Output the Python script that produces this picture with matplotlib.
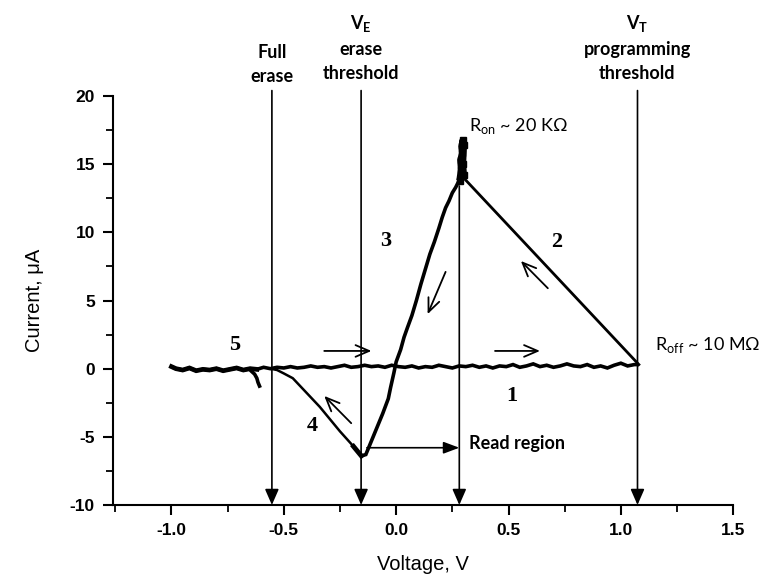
import matplotlib
matplotlib.use("Agg")
import matplotlib.pyplot as plt
from matplotlib import font_manager
from matplotlib.ticker import MultipleLocator, FormatStrFormatter

plt.rcParams["axes.unicode_minus"] = False

# ---- data ----
# off state sweep (branches 5 and 1), noisy line near zero
off_v = [-1.00, -0.98, -0.95, -0.92, -0.89, -0.86, -0.83, -0.80, -0.77, -0.74,
         -0.71, -0.68, -0.65, -0.62, -0.59, -0.56, -0.53, -0.50, -0.47, -0.44,
         -0.41, -0.38, -0.35, -0.32, -0.29, -0.26, -0.23, -0.20, -0.17, -0.14,
         -0.11, -0.08, -0.05, -0.02, 0.01, 0.04, 0.07, 0.10, 0.13, 0.16,
         0.19, 0.22, 0.25, 0.28, 0.31, 0.34, 0.37, 0.40, 0.43, 0.46,
         0.49, 0.52, 0.55, 0.58, 0.61, 0.64, 0.67, 0.70, 0.73, 0.76,
         0.79, 0.82, 0.85, 0.88, 0.91, 0.94, 0.97, 1.00, 1.03, 1.06, 1.08]
off_i = [0.15, 0.00, -0.10, 0.05, -0.15, -0.05, -0.10, 0.00, -0.15, -0.05,
         0.05, -0.10, 0.00, -0.05, 0.10, 0.00, 0.10, 0.05, 0.15, 0.05,
         0.10, 0.20, 0.10, 0.15, 0.05, 0.15, 0.25, 0.10, 0.15, 0.25,
         0.15, 0.20, 0.10, 0.25, 0.15, 0.10, 0.20, 0.05, 0.15, 0.10,
         0.25, 0.15, 0.05, 0.20, 0.15, 0.25, 0.10, 0.20, 0.05, 0.20,
         0.15, 0.30, 0.10, 0.20, 0.35, 0.15, 0.25, 0.10, 0.20, 0.35,
         0.20, 0.15, 0.30, 0.10, 0.20, 0.05, 0.25, 0.40, 0.20, 0.30, 0.30]

# small tail below branch 5
tail_v = [-0.65, -0.63, -0.62, -0.615, -0.605]
tail_i = [-0.10, -0.40, -0.70, -1.00, -1.40]

# branch 2: set at V_T, straight line back to the on state
set_v = [1.08, 0.30]
set_i = [0.30, 14.0]

# spike at the top of the on state
spike_v = [0.283, 0.29, 0.287, 0.295, 0.292, 0.298, 0.30, 0.296, 0.30]
spike_i = [13.8, 14.6, 15.3, 15.8, 16.3, 16.8, 16.4, 15.0, 14.2]

# branch 3: on state, sweeping down through zero
on_v = [0.28, 0.265, 0.25, 0.235, 0.22, 0.205, 0.19, 0.17, 0.15, 0.13, 0.11,
        0.09, 0.07, 0.05, 0.035, 0.02, 0.00, -0.01, -0.025, -0.035, -0.06,
        -0.08, -0.10, -0.12, -0.135, -0.155]
on_i = [13.8, 13.3, 12.9, 12.3, 11.8, 11.1, 10.3, 9.3, 8.4, 7.3, 6.2,
        5.0, 3.9, 3.0, 2.3, 1.4, 0.5, -0.3, -1.4, -2.2, -3.3,
        -4.1, -4.9, -5.7, -6.3, -6.4]

# branch 4: erase, back up to zero
erase_v = [-0.155, -0.17, -0.19, -0.25, -0.34, -0.42, -0.46, -0.50, -0.53, -0.56]
erase_i = [-6.4, -6.1, -5.7, -4.6, -2.8, -1.4, -0.7, -0.35, -0.1, 0.0]

# vertical markers (voltage, top current)
marker_v = [-0.553, -0.156, 0.281, 1.074]
marker_top = [20.4, 20.4, 13.4, 20.4]

# direction arrows along the loop: (start v, start i, end v, end i)
dir_arrows = [(-0.32, 1.3, -0.11, 1.3),
              (0.44, 1.3, 0.64, 1.3),
              (0.675, 5.9, 0.555, 7.9),
              (0.22, 7.1, 0.14, 4.0),
              (-0.20, -4.0, -0.32, -2.0)]

branch_labels = ["1", "2", "3", "4", "5"]
branch_label_v = [0.515, 0.715, -0.045, -0.375, -0.72]
branch_label_i = [-2.0, 9.3, 9.4, -4.2, 1.7]

# ---- fonts ----
available = {f.name for f in font_manager.fontManager.ttflist}


def pick(*names):
    return [n for n in names if n in available] or ["DejaVu Sans"]


tick_font = pick("Liberation Sans Narrow", "Liberation Sans", "DejaVu Sans")
label_font = pick("Liberation Sans", "DejaVu Sans")
note_font = pick("Lato", "Open Sans", "DejaVu Sans")
num_font = pick("Liberation Serif", "DejaVu Serif")

fig = plt.figure(figsize=(7.71, 5.77), dpi=100)
ax = fig.add_axes([0.1466, 0.1248, 0.951 - 0.1466, 0.8336 - 0.1248])

line_kw = dict(color="black", lw=2.6, solid_capstyle="butt", solid_joinstyle="miter")
ax.plot(off_v[:14], off_i[:14], color="black", lw=3.4, solid_joinstyle="miter")
ax.plot(off_v, off_i, **line_kw)
ax.plot(tail_v, tail_i, **line_kw)
ax.plot(set_v, set_i, color="black", lw=2.0)
ax.plot(spike_v, spike_i, color="black", lw=5.0, marker="s", ms=5,
        solid_capstyle="butt", solid_joinstyle="miter")
ax.plot(on_v, on_i, **line_kw)
ax.plot(erase_v, erase_i, color="black", lw=1.8)
ax.plot(erase_v[:3], erase_i[:3], color="black", lw=3.5)

ax.set_xlim(-1.26, 1.5)
ax.set_ylim(-10, 20)

for side in ["top", "right"]:
    ax.spines[side].set_visible(False)
for side in ["left", "bottom"]:
    ax.spines[side].set_linewidth(1.5)

ax.xaxis.set_major_locator(MultipleLocator(0.5))
ax.xaxis.set_minor_locator(MultipleLocator(0.25))
ax.yaxis.set_major_locator(MultipleLocator(5))
ax.yaxis.set_minor_locator(MultipleLocator(2.5))
ax.xaxis.set_major_formatter(FormatStrFormatter("%.1f"))
ax.tick_params(which="major", direction="out", length=7, width=1.5, pad=6)
ax.tick_params(which="minor", direction="out", length=5, width=1.3)
for lab in ax.get_xticklabels() + ax.get_yticklabels():
    lab.set_fontfamily(tick_font)
    lab.set_fontweight("bold")
    lab.set_fontsize(12.5)

fig.text(35 / 771, 0.5 * (0.1248 + 0.8336), "Current, \u03bcA", rotation=90,
         ha="center", va="center", fontsize=14.5, family=label_font)
fig.text(0.5 * (0.1466 + 0.951), 1 - 565 / 577, "Voltage, V",
         ha="center", va="center", fontsize=14.5, family=label_font)

# vertical arrows down to the axis
for v, top in zip(marker_v, marker_top):
    ax.annotate("", xy=(v, -10), xytext=(v, top),
                arrowprops=dict(arrowstyle="-|>,head_length=0.8,head_width=0.35",
                                color="black", lw=1.2, mutation_scale=12,
                                shrinkA=0, shrinkB=0),
                annotation_clip=False)

# read region arrow
ax.annotate("", xy=(0.281, -5.8), xytext=(-0.13, -5.8),
            arrowprops=dict(arrowstyle="-|>,head_length=0.8,head_width=0.3",
                            color="black", lw=1.2, mutation_scale=12,
                            shrinkA=0, shrinkB=0))

for x0, y0, x1, y1 in dir_arrows:
    ax.annotate("", xy=(x1, y1), xytext=(x0, y0),
                arrowprops=dict(arrowstyle="->,head_length=0.7,head_width=0.3",
                                color="black", lw=1.3, mutation_scale=14,
                                shrinkA=0, shrinkB=0))

for t, v, i in zip(branch_labels, branch_label_v, branch_label_i):
    ax.text(v, i, t, ha="center", va="center", fontsize=16, fontweight="bold",
            family=num_font)

note_kw = dict(family=note_font, fontsize=13, fontweight="bold",
               ha="center", va="baseline", clip_on=False)
ax.text(-0.553, 22.8, "Full", **note_kw)
ax.text(-0.553, 21.03, "erase", **note_kw)
ax.text(-0.156, 24.9, "V$_{\\mathregular{E}}$", **note_kw)
ax.text(-0.156, 23.02, "erase", **note_kw)
ax.text(-0.156, 21.25, "threshold", **note_kw)
ax.text(1.074, 24.9, "V$_{\\mathregular{T}}$", **note_kw)
ax.text(1.074, 23.02, "programming", **note_kw)
ax.text(1.074, 21.25, "threshold", **note_kw)

res_kw = dict(family=note_font, fontsize=13, ha="left", va="center")
ax.text(0.325, 17.8, "R$_{\\mathregular{on}}$ ~ 20 K\u03a9", **res_kw)
ax.text(1.15, 1.7, "R$_{\\mathregular{off}}$ ~ 10 M\u03a9", **res_kw)
ax.text(0.325, -5.5, "Read region", family=note_font, fontsize=13,
        fontweight="bold", ha="left", va="center")

fig.savefig("out.png", dpi=100)
